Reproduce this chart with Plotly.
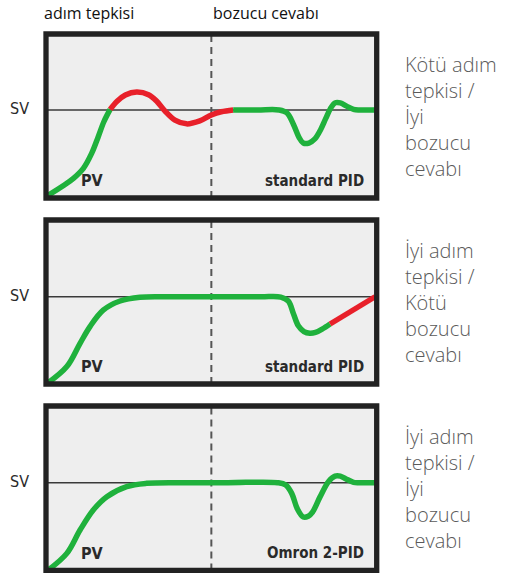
import plotly.graph_objects as go

W, H = 507, 573

# ---------------- data (x: 0..100 across panel, y: 0..100 bottom..top) ----------------
sv_level = [53.7, 53.2, 53.4]

# panel 1 : standard PID, bad step / good disturbance
p1_green_a_x = [0.5, 5.2, 8.3, 11.3, 13.8, 15.8, 17.5, 19.4]
p1_green_a_y = [1.5, 7.5, 12.0, 18.1, 27.2, 37.4, 46.5, 54.0]
p1_red_x = [19.4, 21.5, 24.0, 27.4, 31.0, 33.5, 36.0, 39.0, 42.5, 46.5, 50.0, 53.0, 56.6]
p1_red_y = [54.0, 59.0, 62.8, 64.6, 63.0, 59.0, 53.0, 47.5, 45.2, 47.0, 50.6, 52.6, 53.7]
p1_green_b_x = [56.6, 64.0, 70.5, 72.8, 74.8, 76.5, 77.8, 79.5, 81.3, 83.0, 84.6, 86.0, 87.4, 89.0, 90.9, 93.0, 95.0, 99.5]
p1_green_b_y = [53.7, 53.7, 53.7, 52.0, 45.0, 37.0, 33.5, 33.5, 36.0, 41.5, 48.5, 54.5, 58.0, 58.0, 56.0, 54.0, 53.7, 53.7]

# panel 2 : standard PID, good step / bad disturbance
p2_green_x = [0.5, 6.3, 10.3, 13.3, 17.3, 22.4, 28.4, 36.5, 50.0, 65.0, 71.0, 73.3, 74.8, 76.3, 78.0, 79.8, 81.5, 83.5, 85.9]
p2_green_y = [0.5, 10.6, 24.8, 35.0, 45.0, 50.6, 52.9, 53.2, 53.2, 53.2, 53.0, 50.5, 43.0, 35.5, 32.0, 31.0, 31.5, 33.5, 36.6]
p2_red_x = [85.9, 99.5]
p2_red_y = [36.6, 53.2]

# panel 3 : Omron 2-PID, good step / good disturbance
p3_green_x = [0.5, 6.3, 10.3, 14.3, 18.4, 24.4, 30.4, 40.0, 55.0, 70.0, 72.5, 74.3, 76.0, 77.8, 79.3, 80.6, 82.9, 85.4, 87.4, 89.0, 90.6, 93.0, 95.0, 99.5]
p3_green_y = [0.0, 10.4, 24.6, 36.8, 44.9, 51.0, 53.0, 53.4, 53.4, 53.4, 52.0, 46.9, 37.5, 32.5, 33.0, 35.5, 44.9, 54.0, 57.4, 57.4, 55.8, 53.6, 53.4, 53.4]

curve_labels = ["standard PID", "standard PID", "Omron 2-PID"]
top_labels = ["adım tepkisi", "bozucu cevabı"]
side_texts = [
    ["Kötü adım", "tepkisi /", "İyi", "bozucu", "cevabı"],
    ["İyi adım", "tepkisi /", "Kötü", "bozucu", "cevabı"],
    ["İyi adım", "tepkisi /", "İyi", "bozucu", "cevabı"],
]

# ---------------- layout geometry (pixels) ----------------
x_left, x_right = 46, 376.7
panel_tops = [34, 220, 406]
panel_bottoms = [198, 384, 570.5]

GREEN = "#1fb13c"
RED = "#e8202a"
BORDER = "#222222"
FILL = "#eeeeee"
COND = "DejaVu Sans Condensed, Liberation Sans Narrow, sans-serif"

def px_x(p):
    return p / W

def px_y(p):
    return 1 - p / H

fig = go.Figure()

segments = [
    [(p1_green_a_x, p1_green_a_y, GREEN), (p1_red_x, p1_red_y, RED), (p1_green_b_x, p1_green_b_y, GREEN)],
    [(p2_green_x, p2_green_y, GREEN), (p2_red_x, p2_red_y, RED)],
    [(p3_green_x, p3_green_y, GREEN)],
]

shapes = []
annotations = []
for i in range(3):
    sfx = "" if i == 0 else str(i + 1)
    xa, ya = "x" + sfx, "y" + sfx
    for xs, ys, col in segments[i]:
        fig.add_trace(go.Scatter(x=xs, y=ys, mode="lines", xaxis=xa, yaxis=ya,
                                 line=dict(color=col, width=5.5, shape="spline", smoothing=1.0),
                                 hoverinfo="skip", showlegend=False))
    dom_y = [px_y(panel_bottoms[i]), px_y(panel_tops[i])]
    fig.update_layout(**{
        "xaxis" + sfx: dict(domain=[px_x(x_left), px_x(x_right)], range=[0, 100], visible=False,
                            anchor=ya, fixedrange=True),
        "yaxis" + sfx: dict(domain=dom_y, range=[0, 100], visible=False, anchor=xa, fixedrange=True),
    })
    shapes.append(dict(type="rect", xref=xa + " domain", yref=ya + " domain", x0=0, x1=1, y0=0, y1=1,
                       fillcolor=FILL, line=dict(width=0), layer="below"))
    shapes.append(dict(type="line", xref=xa, yref=ya, x0=0, x1=100, y0=sv_level[i], y1=sv_level[i],
                       line=dict(color="#3a3a3a", width=1.5), layer="below"))
    shapes.append(dict(type="line", xref=xa, yref=ya, x0=50, x1=50, y0=0, y1=100,
                       line=dict(color="#555555", width=2, dash="7px,5px"), layer="below"))
    shapes.append(dict(type="rect", xref=xa + " domain", yref=ya + " domain", x0=0, x1=1, y0=0, y1=1,
                       fillcolor="rgba(0,0,0,0)", line=dict(color=BORDER, width=5.3), layer="above"))
    annotations.append(dict(text="SV", xref="paper", yref=ya, x=px_x(30.5), y=sv_level[i] + 1,
                            xanchor="right", yanchor="middle", showarrow=False,
                            font=dict(family=COND, size=16, color="#2a2a2a", weight=500)))
    annotations.append(dict(text="PV", xref=xa, yref=ya, x=14.2, y=10.5,
                            xanchor="center", yanchor="middle", showarrow=False,
                            font=dict(family=COND, size=16, color="#2a2a2a", weight="bold")))
    annotations.append(dict(text=curve_labels[i], xref=xa, yref=ya, x=96.8, y=10.5,
                            xanchor="right", yanchor="middle", showarrow=False,
                            font=dict(family=COND, size=15, color="#2a2a2a", weight="bold")))
    annotations.append(dict(text="<br>".join(side_texts[i]), xref="paper", yref=ya,
                            x=px_x(403), y=50, xanchor="left", yanchor="middle", align="left",
                            showarrow=False,
                            font=dict(family="Open Sans, sans-serif", size=20,
                                      color="#5a5a5a", weight=300)))

annotations.append(dict(text=top_labels[0], xref="paper", yref="paper", x=px_x(89), y=px_y(13),
                        xanchor="center", yanchor="middle", showarrow=False,
                        font=dict(family="Open Sans, sans-serif", size=16, color="#111111")))
annotations.append(dict(text=top_labels[1], xref="paper", yref="paper", x=px_x(266), y=px_y(13),
                        xanchor="center", yanchor="middle", showarrow=False,
                        font=dict(family="Open Sans, sans-serif", size=16, color="#111111")))

fig.update_layout(width=W, height=H, margin=dict(l=0, r=0, t=0, b=0),
                  paper_bgcolor="white", plot_bgcolor="rgba(0,0,0,0)",
                  shapes=shapes, annotations=annotations, showlegend=False)

fig.write_html("out.html", config={"displayModeBar": False},
               post_script="document.body.style.margin='0';document.body.style.overflow='hidden';")
